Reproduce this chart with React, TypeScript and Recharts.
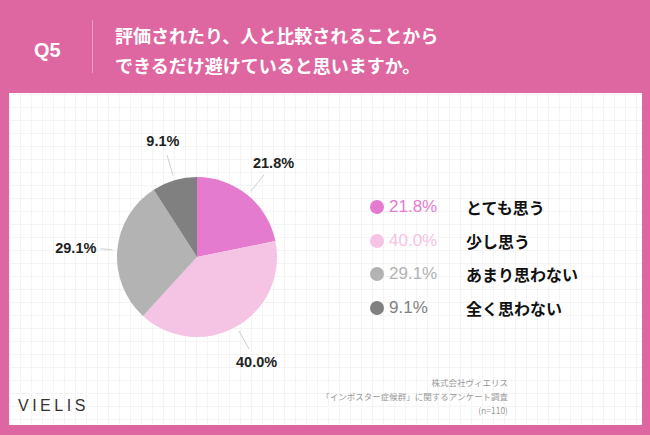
import { PieChart, Pie, Cell } from 'recharts';

const answers = ['とても思う', '少し思う', 'あまり思わない', '全く思わない'];
const shares = [21.8, 40.0, 29.1, 9.1];
const colors = ['#E47BCF', '#F5C3E4', '#B3B3B3', '#808080'];

const titleLines = ['評価されたり、人と比較されることから', 'できるだけ避けていると思いますか。'];
const sourceLines = ['株式会社ヴィエリス', '「インポスター症候群」に関するアンケート調査', '(n=110)'];

const pieData = answers.map((name, i) => ({ name, value: shares[i] }));

const PINK = '#DE67A2';
const FONT = "'Liberation Sans', 'Noto Sans CJK JP', sans-serif";
const RAD = Math.PI / 180;

function SliceLabel(props: any) {
  const { cx, cy, midAngle, value } = props;
  const cos = Math.cos(-midAngle * RAD);
  const sin = Math.sin(-midAngle * RAD);
  const side = Math.abs(cos) > 0.9;
  const r1 = 85;
  const r2 = side ? 97 : 106;
  const rt = side ? 101 : 121;
  const tx = cx + rt * cos;
  const ty = cy + rt * sin;
  return (
    <g>
      <line
        x1={cx + r1 * cos} y1={cy + r1 * sin}
        x2={cx + r2 * cos} y2={cy + r2 * sin}
        stroke="#cfcfcf" strokeWidth={1}
      />
      <text
        x={tx} y={ty}
        textAnchor={side ? (cos < 0 ? 'end' : 'start') : 'middle'}
        dominantBaseline="central"
        fill="#222" fontSize={14.5} fontWeight={700} fontFamily={FONT}
      >
        {value.toFixed(1)}%
      </text>
    </g>
  );
}

export default function App() {
  return (
    <div style={{ position: 'fixed', left: 0, top: 0, width: 650, height: 435, background: PINK, fontFamily: FONT, overflow: 'hidden' }}>
      {/* header */}
      <div style={{ position: 'absolute', left: 34, top: 39, color: '#fff', fontSize: 20, fontWeight: 700 }}>Q5</div>
      <div style={{ position: 'absolute', left: 92, top: 20, width: 1, height: 53, background: '#eaa0c4' }} />
      <div style={{ position: 'absolute', left: 115, top: 20, color: '#fff', fontSize: 18, fontWeight: 700, lineHeight: '30px', fontFamily: "'Noto Sans CJK JP', sans-serif" }}>
        {titleLines.map(t => <div key={t}>{t}</div>)}
      </div>

      {/* white panel with faint grid */}
      <div
        style={{
          position: 'absolute', left: 9, top: 93, width: 633, height: 332,
          background: '#fff',
          backgroundImage: 'linear-gradient(#f4f4f4 1px, transparent 1px), linear-gradient(90deg, #f4f4f4 1px, transparent 1px)',
          backgroundSize: '11px 13px',
          backgroundPosition: '0 1px',
        }}
      >
        <div style={{ position: 'absolute', left: 0, top: 0 }}>
          <PieChart width={340} height={290}>
            <Pie
              data={pieData}
              dataKey="value"
              nameKey="name"
              cx={183}
              cy={159}
              outerRadius={80}
              startAngle={90}
              endAngle={-270}
              stroke="none"
              label={SliceLabel}
              labelLine={false}
              isAnimationActive={false}
            >
              {pieData.map((d, i) => <Cell key={d.name} fill={colors[i]} />)}
            </Pie>
          </PieChart>
        </div>

        {/* legend */}
        {answers.map((a, i) => (
          <div key={a} style={{ position: 'absolute', left: 361, top: 103 + i * 33.5, height: 22, display: 'flex', alignItems: 'center' }}>
            <div style={{ width: 14, height: 14, borderRadius: 7, background: colors[i] }} />
            <div style={{ marginLeft: 5, width: 77, color: colors[i], fontSize: 17 }}>{shares[i].toFixed(1)}%</div>
            <div style={{ color: '#111', fontSize: 16, fontWeight: 700, fontFamily: "'Noto Sans CJK JP', sans-serif" }}>{a}</div>
          </div>
        ))}

        {/* footer */}
        <div style={{ position: 'absolute', left: 9, top: 304, color: '#333', fontSize: 16, letterSpacing: 3.5, fontWeight: 400 }}>VIELIS</div>
        <div style={{ position: 'absolute', right: 134, top: 282, textAlign: 'right', color: '#999', fontSize: 8.5, lineHeight: '14px', fontFamily: "'Noto Sans CJK JP', sans-serif" }}>
          {sourceLines.map(t => <div key={t}>{t}</div>)}
        </div>
      </div>
    </div>
  );
}
